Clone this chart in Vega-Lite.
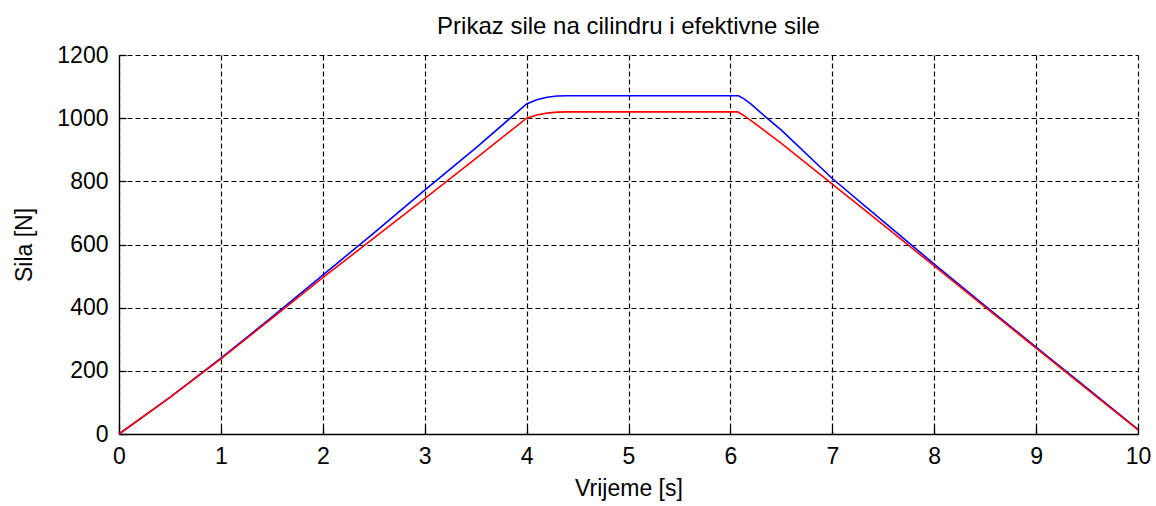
{
  "$schema": "https://vega.github.io/schema/vega-lite/v6.json",
  "width": 1019,
  "height": 379,
  "autosize": {"type": "none"},
  "padding": {"left": 119, "top": 55, "right": 18, "bottom": 72},
  "background": "white",
  "title": {
    "text": "Prikaz sile na cilindru i efektivne sile",
    "font": "Liberation Sans",
    "fontSize": 24,
    "fontWeight": "normal",
    "color": "#000000",
    "offset": 5
  },
  "config": {
    "view": {"stroke": null},
    "axis": {
      "labelFont": "Liberation Sans",
      "labelFontSize": 23,
      "labelColor": "#000000",
      "labelFlush": false,
      "titleFont": "Liberation Sans",
      "titleFontSize": 23,
      "titleFontWeight": "normal",
      "titleColor": "#000000",
      "domainColor": "#000000",
      "domainWidth": 1.3,
      "tickColor": "#000000",
      "tickSize": -7,
      "tickWidth": 1.3,
      "grid": true,
      "gridColor": "#000000",
      "gridOpacity": 1,
      "gridDash": [5, 3],
      "gridWidth": 1.2
    }
  },
  "datasets": {
    "cilindar": [
      {"t": 0, "F": 0},
      {"t": 0.5, "F": 116},
      {"t": 1, "F": 240},
      {"t": 1.5, "F": 370},
      {"t": 2, "F": 503},
      {"t": 2.5, "F": 636},
      {"t": 3, "F": 772},
      {"t": 3.5, "F": 905},
      {"t": 4, "F": 1045},
      {"t": 4.1, "F": 1058},
      {"t": 4.2, "F": 1066},
      {"t": 4.3, "F": 1070},
      {"t": 4.4, "F": 1071},
      {"t": 6.08, "F": 1071},
      {"t": 6.13, "F": 1062},
      {"t": 6.2, "F": 1045},
      {"t": 6.36, "F": 1000},
      {"t": 6.5, "F": 962},
      {"t": 7, "F": 809},
      {"t": 7.5, "F": 673},
      {"t": 8, "F": 538},
      {"t": 8.5, "F": 406},
      {"t": 9, "F": 275},
      {"t": 9.5, "F": 145},
      {"t": 10, "F": 15}
    ],
    "efektivna": [
      {"t": 0, "F": 0},
      {"t": 0.5, "F": 116},
      {"t": 1, "F": 238},
      {"t": 1.5, "F": 366},
      {"t": 2, "F": 495},
      {"t": 2.5, "F": 620},
      {"t": 3, "F": 745},
      {"t": 3.5, "F": 872},
      {"t": 4, "F": 1000},
      {"t": 4.1, "F": 1010},
      {"t": 4.2, "F": 1016},
      {"t": 4.3, "F": 1019},
      {"t": 4.4, "F": 1020},
      {"t": 6.07, "F": 1020},
      {"t": 6.12, "F": 1011},
      {"t": 6.2, "F": 993},
      {"t": 6.5, "F": 920},
      {"t": 7, "F": 791},
      {"t": 7.5, "F": 662},
      {"t": 8, "F": 532},
      {"t": 8.5, "F": 402},
      {"t": 9, "F": 272},
      {"t": 9.5, "F": 142},
      {"t": 10, "F": 13}
    ]
  },
  "layer": [
    {
      "data": {"name": "cilindar"},
      "mark": {"type": "line", "color": "#0000ff", "strokeWidth": 1.6},
      "encoding": {
        "x": {
          "field": "t",
          "type": "quantitative",
          "scale": {"domain": [0, 10], "nice": false},
          "axis": {
            "title": "Vrijeme [s]",
            "values": [0, 1, 2, 3, 4, 5, 6, 7, 8, 9, 10],
            "format": "d",
            "labelPadding": 18,
            "titlePadding": 9
          }
        },
        "y": {
          "field": "F",
          "type": "quantitative",
          "scale": {"domain": [0, 1200], "nice": false},
          "axis": {
            "title": "Sila [N]",
            "values": [0, 200, 400, 600, 800, 1000, 1200],
            "format": "d",
            "labelPadding": 18,
            "titlePadding": 20
          }
        }
      }
    },
    {
      "data": {"name": "efektivna"},
      "mark": {"type": "line", "color": "#ff0000", "strokeWidth": 1.6},
      "encoding": {
        "x": {"field": "t", "type": "quantitative"},
        "y": {"field": "F", "type": "quantitative"}
      }
    }
  ]
}
